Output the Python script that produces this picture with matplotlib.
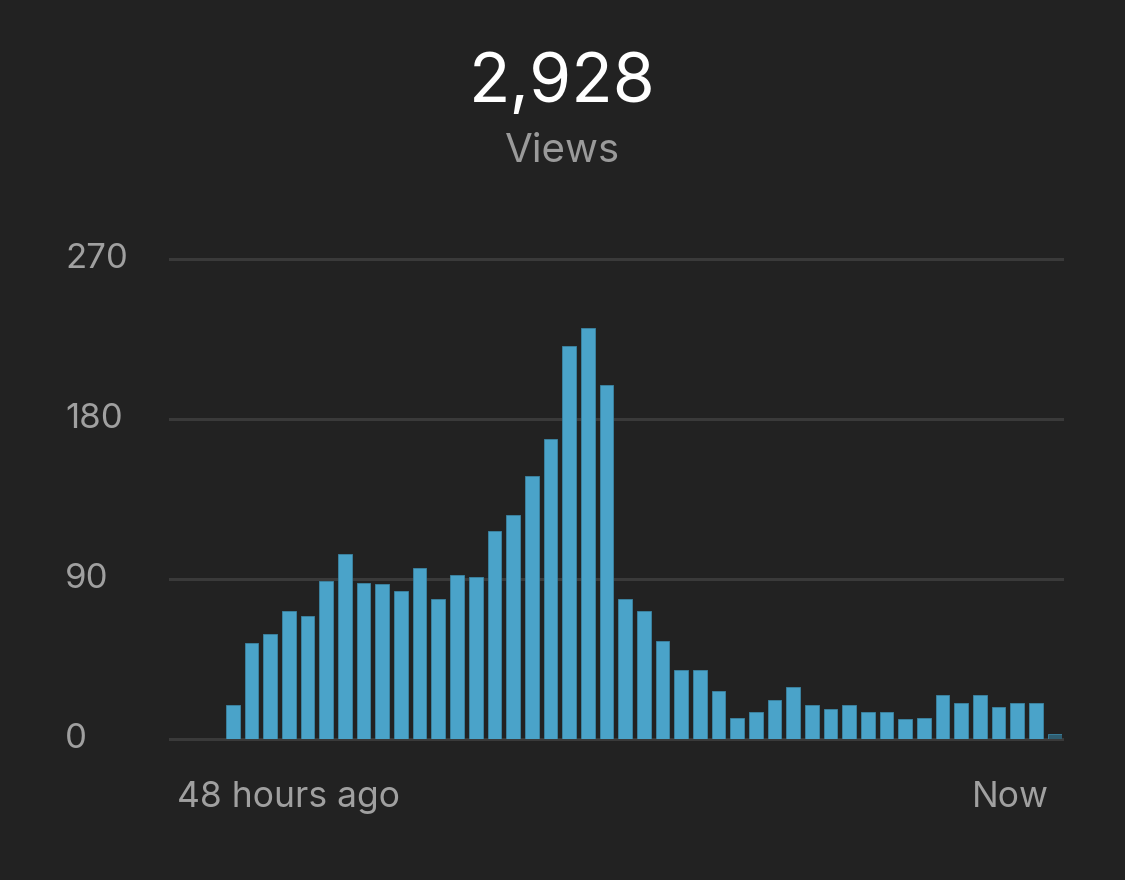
import matplotlib
matplotlib.use("Agg")
import matplotlib.pyplot as plt
import matplotlib.transforms as mtransforms

# hourly views over the last 48 hours (oldest first)
views = [0, 0, 0, 19, 54, 59, 72, 69, 89, 104, 88, 87, 83, 96, 79, 92, 91,
         117, 126, 148, 169, 221, 231, 199, 79, 72, 55, 39, 39, 27, 12, 15,
         22, 29, 19, 17, 19, 15, 15, 11, 12, 25, 20, 25, 18, 20, 20, 3]
y_ticks = [0, 90, 180, 270]
total_label = "2,928"
subtitle = "Views"
x_labels = ["48 hours ago", "Now"]

BG = "#222222"
BAR = "#4aa3c9"
BAR_EDGE = "#3b86a6"
BAR_PARTIAL = "#2f5d70"
GRID = "#3a3a3a"
LABEL = "#a0a0a0"

plt.rcParams["font.family"] = ["Inter", "DejaVu Sans"]

fig = plt.figure(figsize=(11.25, 8.8), dpi=100, facecolor=BG)
W, H = 1125, 880
ax = fig.add_axes([170 / W, 1 - 739 / H, (1061.5 - 170) / W, (739 - 259) / H])
ax.set_facecolor(BG)

n = len(views)
colors = [BAR] * (n - 1) + [BAR_PARTIAL]
ax.bar(range(n), views, width=0.733, align="edge", color=colors,
       edgecolor=BAR_EDGE, linewidth=0.6, zorder=3)

ax.set_xlim(0, n - 1 + 0.733)
ax.set_ylim(0, y_ticks[-1])
for t in y_ticks:
    ax.axhline(t, color=GRID, lw=2.2, zorder=1, clip_on=False)

for s in ax.spines.values():
    s.set_visible(False)
ax.set_xticks([])
ax.set_yticks([])

# y labels, left aligned in figure space
trans = mtransforms.blended_transform_factory(fig.transFigure, ax.transData)
for t in y_ticks:
    ax.text(65 / W, t, str(t), transform=trans, ha="left", va="center",
            color=LABEL, fontsize=25, clip_on=False)

# x labels
fig.text(177 / W, 1 - 797 / H, x_labels[0], ha="left", va="center",
         color=LABEL, fontsize=25.5)
fig.text(1049 / W, 1 - 797 / H, x_labels[1], ha="right", va="center",
         color=LABEL, fontsize=25.5)

# header
fig.text(0.5, 1 - 84 / H, total_label, ha="center", va="center",
         color="white", fontsize=49)
fig.text(0.5, 1 - 151 / H, subtitle, ha="center", va="center",
         color="#9a9a9a", fontsize=29)

fig.savefig("out.png", dpi=100, facecolor=BG)
